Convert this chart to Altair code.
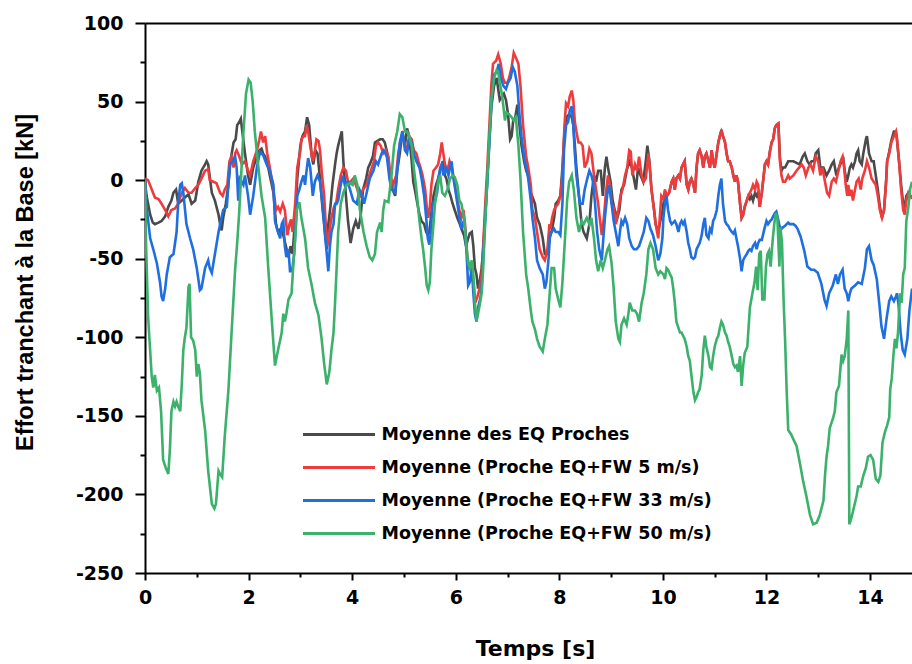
import altair as alt
import pandas as pd

SERIES = [
    "Moyenne des EQ Proches",
    "Moyenne (Proche EQ+FW 5 m/s)",
    "Moyenne (Proche EQ+FW 33 m/s)",
    "Moyenne (Proche EQ+FW 50 m/s)",
]
COLORS = ["#4a4a4a", "#ef3b3b", "#1f6fe0", "#3bb16c"]

X_MAJOR = [0, 2, 4, 6, 8, 10, 12, 14]
X_MINOR = [1, 3, 5, 7, 9, 11, 13]
Y_MAJOR = [-250, -200, -150, -100, -50, 0, 50, 100]
Y_MINOR = [-225, -175, -125, -75, -25, 25, 75]

# (time [s], base shear [kN])
GRAY = [
    (0, -1), (0.03, -10), (0.10, -22), (0.15, -27), (0.19, -28), (0.26, -27), (0.32, -26), (0.39, -23),
    (0.45, -17), (0.51, -13), (0.55, -8), (0.60, -6), (0.64, -15), (0.71, -13), (0.77, -11), (0.84, -9),
    (0.90, -15), (0.97, -13), (1.03, -1), (1.09, 6), (1.16, 10), (1.19, 12), (1.22, 10), (1.29, -8),
    (1.35, -13), (1.42, -22), (1.45, -28), (1.48, -32), (1.51, -24), (1.56, -15), (1.61, -3), (1.65, 12),
    (1.71, 24), (1.75, 26), (1.78, 35), (1.82, 37), (1.85, 39), (1.89, 28), (1.93, 17), (1.96, 10),
    (1.99, 3), (2.03, -3), (2.09, 8), (2.16, 15), (2.21, 19), (2.25, 20), (2.28, 17), (2.32, 15), (2.38, 8),
    (2.41, 3), (2.48, -8), (2.53, -28), (2.57, -33), (2.62, -31), (2.67, -35), (2.72, -42), (2.77, -49),
    (2.81, -42), (2.85, -47), (2.90, -24), (2.94, 1), (3.00, 22), (3.04, 28), (3.09, 31), (3.13, 40),
    (3.17, 35), (3.22, 15), (3.25, 10), (3.29, 19), (3.33, 17), (3.38, 1), (3.43, -19), (3.47, -31),
    (3.51, -44), (3.54, -28), (3.58, -17), (3.62, -3), (3.67, 10), (3.70, 17), (3.73, 22), (3.76, 26),
    (3.80, 31), (3.83, 12), (3.88, -10), (3.92, -26), (3.97, -40), (4.02, -31), (4.07, -26), (4.12, -31),
    (4.16, -24), (4.21, -6), (4.27, 1), (4.31, 8), (4.34, 10), (4.40, 15), (4.44, 24), (4.49, 25),
    (4.54, 26), (4.59, 26), (4.63, 24), (4.68, 17), (4.73, 1), (4.78, -6), (4.83, -10), (4.87, 6),
    (4.92, 17), (4.97, 31), (5.02, 22), (5.06, 33), (5.10, 28), (5.15, 12), (5.18, -1), (5.21, -6),
    (5.26, -15), (5.30, -22), (5.34, -26), (5.39, -28), (5.43, -33), (5.46, -35), (5.49, -33), (5.52, -24),
    (5.57, -10), (5.62, -3), (5.66, 1), (5.71, 8), (5.75, 12), (5.79, 3), (5.82, 1), (5.86, -6),
    (5.90, -10), (5.94, -15), (5.98, -19), (6.03, -24), (6.08, -28), (6.11, -31), (6.16, -35), (6.20, -42),
    (6.24, -37), (6.27, -34), (6.31, -33), (6.34, -42), (6.37, -56), (6.40, -60), (6.43, -69), (6.47, -63),
    (6.50, -56), (6.53, -44), (6.57, -22), (6.61, 1), (6.65, 26), (6.69, 47), (6.74, 60), (6.79, 65),
    (6.82, 58), (6.85, 51), (6.89, 53), (6.93, 55), (6.97, 51), (7.01, 42), (7.05, 26), (7.08, 28),
    (7.11, 38), (7.15, 40), (7.19, 48), (7.23, 35), (7.27, 22), (7.32, 12), (7.36, 6), (7.40, 3),
    (7.45, -8), (7.53, -15), (7.57, -24), (7.62, -28), (7.68, -37), (7.72, -47), (7.77, -47), (7.81, -37),
    (7.85, -33), (7.90, -24), (7.93, -15), (7.98, -13), (8.02, -10), (8.06, 8), (8.10, 31), (8.14, 40),
    (8.19, 42), (8.24, 40), (8.27, 35), (8.30, 22), (8.33, 8), (8.38, -10), (8.43, -28), (8.47, -33),
    (8.53, -37), (8.58, -28), (8.62, -10), (8.67, 3), (8.71, -1), (8.75, 6), (8.80, 6), (8.84, -10),
    (8.88, 8), (8.91, 15), (8.94, 8), (8.99, -1), (9.03, -13), (9.07, -19), (9.12, -24), (9.16, -19),
    (9.20, -6), (9.25, -3), (9.30, 6), (9.35, 12), (9.40, 8), (9.44, 1), (9.48, -6), (9.52, 8),
    (9.57, 3), (9.62, -1), (9.67, 12), (9.70, 22), (9.74, 12), (9.78, -6), (9.83, -19), (9.86, -28),
    (9.91, -33), (9.95, -26), (9.99, -20), (10.04, -8), (10.08, -10), (10.12, -8), (10.17, -1), (10.20, 1),
    (10.23, -6), (10.26, 1), (10.30, 3), (10.33, 1), (10.36, 8), (10.39, 10), (10.42, 12), (10.46, -3),
    (10.49, -6), (10.52, -1), (10.55, 1), (10.59, -3), (10.62, -8), (10.65, 8), (10.68, 17), (10.71, 19),
    (10.75, 15), (10.78, 8), (10.81, 15), (10.84, 17), (10.88, 12), (10.91, 8), (10.94, 19), (10.97, 12),
    (11.00, 8), (11.04, 17), (11.07, 24), (11.10, 28), (11.13, 32), (11.16, 28), (11.20, 24), (11.23, 17),
    (11.26, 12), (11.29, 12), (11.33, 8), (11.36, 3), (11.39, -1), (11.42, 3), (11.45, -1), (11.49, -15),
    (11.52, -24), (11.55, -22), (11.58, -17), (11.62, -13), (11.65, -10), (11.68, -12), (11.71, -10), (11.74, -13),
    (11.78, -8), (11.81, -10), (11.84, -8), (11.87, -17), (11.91, -8), (11.94, 1), (11.97, 10), (12.00, 12),
    (12.03, 10), (12.07, 19), (12.10, 24), (12.13, 26), (12.16, 33), (12.19, 35), (12.23, 36), (12.26, 14),
    (12.29, 6), (12.32, 8), (12.36, 8), (12.39, 10), (12.42, 12), (12.45, 12), (12.52, 12), (12.58, 11),
    (12.64, 10), (12.70, 15), (12.74, 17), (12.79, 12), (12.83, 10), (12.87, 12), (12.92, 12), (12.95, 17),
    (13.00, 19), (13.04, 8), (13.10, 8), (13.16, 3), (13.21, 6), (13.26, 10), (13.30, 12), (13.35, 3),
    (13.40, 8), (13.45, 12), (13.48, 15), (13.51, 6), (13.55, -1), (13.58, 3), (13.61, 8), (13.64, 10),
    (13.67, 8), (13.71, 12), (13.74, 17), (13.77, 19), (13.80, 12), (13.84, 10), (13.87, 17), (13.92, 26),
    (13.94, 28), (13.98, 17), (14.03, 12), (14.07, 12), (14.11, 3), (14.15, -6), (14.19, -17), (14.23, -24),
    (14.27, -19), (14.31, -1), (14.33, 12), (14.37, 18), (14.41, 25), (14.46, 31), (14.50, 31), (14.52, 26),
    (14.56, 12), (14.60, -3), (14.64, -15), (14.67, -17), (14.70, -10), (14.74, -8), (14.78, -10), (14.81, -11),
]

RED = [
    (0, 1), (0.06, 0), (0.13, -6), (0.19, -11), (0.26, -12), (0.32, -15), (0.39, -19), (0.45, -23),
    (0.51, -19), (0.58, -18), (0.64, -15), (0.71, -8), (0.77, -5), (0.84, -8), (0.90, -8), (0.97, -5),
    (1.03, -3), (1.09, 1), (1.16, 6), (1.22, 7), (1.25, 0), (1.32, -1), (1.38, -2), (1.45, -8),
    (1.50, -10), (1.54, -6), (1.59, -3), (1.63, 12), (1.67, 15), (1.71, 8), (1.74, 17), (1.77, 19),
    (1.82, 15), (1.87, 10), (1.93, 12), (1.99, 6), (2.03, 3), (2.09, 12), (2.16, 19), (2.21, 26),
    (2.24, 31), (2.28, 24), (2.32, 28), (2.36, 17), (2.41, 8), (2.48, -6), (2.53, -19), (2.57, -17),
    (2.61, -20), (2.66, -15), (2.70, -19), (2.75, -35), (2.79, -28), (2.82, -25), (2.85, -33), (2.90, -15),
    (2.94, 8), (3.00, 19), (3.02, 26), (3.06, 28), (3.09, 28), (3.12, 35), (3.15, 31), (3.19, 22),
    (3.24, 12), (3.28, 19), (3.31, 26), (3.35, 25), (3.38, 19), (3.41, 6), (3.46, -10), (3.49, -28),
    (3.52, -42), (3.56, -33), (3.60, -24), (3.65, -17), (3.69, -15), (3.73, -6), (3.78, 3), (3.83, 8),
    (3.88, 6), (3.92, -1), (3.97, -1), (4.02, 1), (4.07, -3), (4.12, -8), (4.16, -10), (4.21, -6),
    (4.28, -3), (4.33, 3), (4.38, 8), (4.42, 12), (4.46, 22), (4.50, 24), (4.55, 22), (4.60, 17),
    (4.65, 19), (4.70, 15), (4.74, 3), (4.79, -3), (4.85, 3), (4.89, 17), (4.94, 26), (4.97, 29),
    (5.02, 22), (5.06, 19), (5.10, 28), (5.15, 26), (5.19, 19), (5.24, 17), (5.28, 12), (5.32, 8),
    (5.36, 3), (5.41, -6), (5.44, -17), (5.47, -24), (5.50, -17), (5.53, -3), (5.57, 6), (5.62, 8),
    (5.66, 10), (5.70, 17), (5.73, 24), (5.76, 17), (5.80, 8), (5.84, 6), (5.88, 12), (5.92, 8),
    (5.97, -1), (6.02, -10), (6.07, -19), (6.11, -24), (6.15, -19), (6.18, -28), (6.22, -47), (6.26, -56),
    (6.30, -56), (6.34, -65), (6.38, -78), (6.42, -74), (6.46, -69), (6.50, -60), (6.53, -42), (6.57, -15),
    (6.61, 8), (6.65, 35), (6.69, 62), (6.72, 74), (6.78, 76), (6.82, 80), (6.87, 74), (6.91, 65),
    (6.95, 62), (7.00, 62), (7.03, 65), (7.08, 72), (7.12, 81), (7.16, 78), (7.21, 74), (7.25, 60),
    (7.30, 35), (7.36, 15), (7.40, 8), (7.45, -3), (7.48, -19), (7.53, -24), (7.57, -33), (7.62, -44),
    (7.68, -49), (7.72, -51), (7.77, -44), (7.81, -28), (7.83, -31), (7.86, -24), (7.90, -19), (7.93, -17),
    (7.98, -15), (8.02, -10), (8.06, 3), (8.10, 35), (8.13, 49), (8.17, 47), (8.20, 53), (8.24, 57),
    (8.27, 51), (8.30, 37), (8.33, 31), (8.37, 24), (8.41, 24), (8.45, 22), (8.49, 8), (8.54, 12),
    (8.58, 20), (8.62, 17), (8.67, 3), (8.71, -6), (8.75, -15), (8.78, -24), (8.82, -35), (8.86, -24),
    (8.90, -8), (8.94, 3), (8.98, -3), (9.01, -15), (9.05, -17), (9.09, -28), (9.14, -19), (9.18, -10),
    (9.22, -6), (9.27, 3), (9.31, 8), (9.35, 19), (9.38, 18), (9.41, 3), (9.46, 10), (9.50, 6),
    (9.54, 15), (9.59, 3), (9.63, -1), (9.67, 1), (9.72, 17), (9.75, 6), (9.78, -6), (9.83, -19),
    (9.86, -28), (9.91, -37), (9.94, -24), (9.97, -10), (10.01, -12), (10.04, -6), (10.08, -10), (10.12, -8),
    (10.17, -1), (10.20, 1), (10.23, -6), (10.26, 1), (10.30, 3), (10.33, 1), (10.36, 8), (10.39, 10),
    (10.42, 12), (10.46, -3), (10.49, -6), (10.52, -1), (10.55, 1), (10.59, -3), (10.62, -8), (10.65, 8),
    (10.68, 17), (10.71, 19), (10.75, 15), (10.78, 8), (10.81, 15), (10.84, 17), (10.88, 12), (10.91, 8),
    (10.94, 19), (10.97, 12), (11.00, 8), (11.04, 17), (11.07, 24), (11.10, 28), (11.13, 31), (11.16, 28),
    (11.20, 24), (11.23, 17), (11.26, 12), (11.29, 12), (11.33, 8), (11.36, 3), (11.39, -1), (11.42, 3),
    (11.45, -1), (11.49, -15), (11.52, -24), (11.55, -22), (11.58, -17), (11.62, -13), (11.65, -10), (11.68, -8),
    (11.71, -6), (11.74, -3), (11.78, -6), (11.81, -1), (11.84, -3), (11.87, -17), (11.91, -8), (11.94, 1),
    (11.97, 10), (12.00, 12), (12.03, 10), (12.07, 19), (12.10, 24), (12.13, 26), (12.16, 33), (12.19, 35),
    (12.23, 36), (12.26, 12), (12.29, 3), (12.32, -1), (12.36, -1), (12.39, 1), (12.42, 3), (12.45, 1),
    (12.52, 3), (12.58, 6), (12.63, 8), (12.68, 10), (12.72, 8), (12.76, 3), (12.81, 8), (12.85, 10),
    (12.90, 6), (12.95, 15), (13.00, 12), (13.04, 3), (13.08, 8), (13.13, -1), (13.17, -8), (13.21, -10),
    (13.26, -1), (13.30, 1), (13.34, -1), (13.39, 6), (13.43, 12), (13.47, 15), (13.50, 8), (13.53, -3),
    (13.56, -10), (13.58, -3), (13.61, -10), (13.64, -6), (13.67, -13), (13.71, -6), (13.74, -1), (13.78, 1),
    (13.82, -6), (13.85, 1), (13.90, 6), (13.94, 12), (13.98, 8), (14.03, 1), (14.07, -1), (14.11, -3),
    (14.15, -10), (14.19, -19), (14.23, -24), (14.27, -19), (14.31, -1), (14.33, 12), (14.37, 17), (14.41, 24),
    (14.46, 28), (14.50, 31), (14.52, 26), (14.56, 12), (14.60, -6), (14.64, -19), (14.67, -22), (14.70, -13),
    (14.74, -8), (14.78, -10), (14.81, -12),
]

BLUE = [
    (0, 0), (0.03, -17), (0.10, -37), (0.16, -44), (0.23, -53), (0.29, -65), (0.32, -74), (0.35, -77),
    (0.39, -69), (0.42, -60), (0.48, -49), (0.55, -47), (0.61, -33), (0.64, -15), (0.68, -3), (0.71, -2),
    (0.74, -8), (0.80, -28), (0.87, -37), (0.93, -44), (1.00, -56), (1.06, -70), (1.09, -69), (1.16, -56),
    (1.22, -51), (1.25, -56), (1.29, -59), (1.35, -47), (1.42, -33), (1.45, -28), (1.51, -19), (1.58, -17),
    (1.61, -3), (1.64, 10), (1.69, 12), (1.74, 15), (1.77, 8), (1.80, -13), (1.83, 1), (1.90, -3),
    (1.93, 3), (1.99, -10), (2.03, -22), (2.09, -10), (2.16, 8), (2.22, 18), (2.28, 16), (2.35, 10),
    (2.41, 6), (2.48, -3), (2.51, -26), (2.55, -31), (2.61, -37), (2.64, -28), (2.67, -26), (2.70, -42),
    (2.73, -49), (2.77, -44), (2.80, -58), (2.84, -58), (2.88, -47), (2.92, -24), (2.94, -10), (2.98, -6),
    (3.02, -1), (3.06, 3), (3.09, -3), (3.12, 6), (3.15, 14), (3.19, 8), (3.24, -10), (3.28, -1),
    (3.33, 3), (3.38, -1), (3.44, -19), (3.47, -33), (3.51, -47), (3.54, -58), (3.57, -42), (3.60, -33),
    (3.64, -28), (3.67, -15), (3.70, -15), (3.73, -13), (3.78, -3), (3.82, 3), (3.86, -3), (3.91, -1),
    (3.96, -6), (4.02, -13), (4.09, -15), (4.14, -6), (4.18, -9), (4.23, -15), (4.28, -8), (4.34, 1),
    (4.41, 6), (4.46, 12), (4.50, 10), (4.57, 17), (4.61, 19), (4.67, 15), (4.72, 1), (4.76, -6),
    (4.83, -8), (4.87, 6), (4.92, 24), (4.97, 31), (5.02, 19), (5.06, 17), (5.10, 26), (5.15, 24),
    (5.19, 17), (5.24, 12), (5.30, 8), (5.34, 1), (5.39, -10), (5.43, -24), (5.46, -37), (5.49, -41),
    (5.52, -33), (5.55, -15), (5.60, -13), (5.64, -8), (5.70, 8), (5.73, 10), (5.76, 3), (5.81, 8),
    (5.86, 3), (5.89, 8), (5.92, 12), (5.95, 3), (6.00, -8), (6.05, -19), (6.08, -26), (6.11, -31),
    (6.15, -26), (6.18, -31), (6.21, -47), (6.24, -67), (6.27, -65), (6.31, -56), (6.34, -72), (6.37, -85),
    (6.40, -90), (6.43, -81), (6.47, -76), (6.50, -69), (6.53, -49), (6.57, -24), (6.61, -1), (6.65, 24),
    (6.69, 51), (6.74, 67), (6.79, 69), (6.83, 74), (6.87, 65), (6.92, 60), (6.97, 58), (7.01, 62),
    (7.06, 65), (7.10, 72), (7.14, 69), (7.19, 60), (7.23, 42), (7.27, 28), (7.32, 15), (7.36, 8),
    (7.40, 1), (7.45, -13), (7.48, -24), (7.53, -37), (7.57, -51), (7.62, -56), (7.68, -60), (7.72, -69),
    (7.75, -65), (7.79, -51), (7.82, -35), (7.85, -33), (7.90, -31), (7.93, -33), (7.98, -33), (8.02, -35),
    (8.06, -15), (8.09, 19), (8.13, 35), (8.17, 37), (8.20, 44), (8.24, 47), (8.27, 35), (8.30, 17),
    (8.33, 3), (8.37, -8), (8.40, -15), (8.45, -15), (8.49, -6), (8.54, 1), (8.58, 6), (8.62, 3),
    (8.65, -1), (8.69, -15), (8.73, -33), (8.77, -44), (8.82, -51), (8.85, -37), (8.88, -24), (8.93, -8),
    (8.96, -3), (9.01, -15), (9.05, -26), (9.09, -33), (9.14, -42), (9.17, -33), (9.20, -26), (9.23, -28),
    (9.27, -24), (9.31, -28), (9.35, -37), (9.40, -42), (9.44, -44), (9.49, -44), (9.54, -42), (9.59, -37),
    (9.63, -33), (9.68, -24), (9.72, -26), (9.76, -31), (9.81, -35), (9.86, -42), (9.91, -51), (9.95, -47),
    (9.99, -37), (10.01, -24), (10.04, -15), (10.07, -10), (10.10, -19), (10.14, -26), (10.17, -28), (10.20, -27),
    (10.23, -26), (10.26, -28), (10.30, -33), (10.33, -28), (10.36, -26), (10.39, -28), (10.42, -26), (10.46, -33),
    (10.49, -40), (10.52, -44), (10.55, -49), (10.59, -50), (10.62, -49), (10.65, -44), (10.68, -42), (10.71, -40),
    (10.75, -35), (10.78, -28), (10.81, -24), (10.84, -35), (10.88, -37), (10.91, -31), (10.94, -33), (10.97, -26),
    (11.00, -24), (11.04, -19), (11.07, -10), (11.10, -3), (11.13, 1), (11.16, -15), (11.20, -26), (11.23, -28),
    (11.26, -29), (11.29, -31), (11.33, -33), (11.36, -34), (11.39, -32), (11.45, -42), (11.49, -50),
    (11.52, -58), (11.55, -51), (11.58, -49), (11.62, -47), (11.65, -45), (11.68, -44), (11.71, -45), (11.74, -42),
    (11.78, -40), (11.81, -44), (11.84, -40), (11.87, -38), (11.91, -38), (11.96, -31), (12.00, -26),
    (12.03, -28), (12.07, -26), (12.10, -25), (12.13, -23), (12.16, -21), (12.19, -20), (12.22, -24), (12.25, -29),
    (12.29, -31), (12.32, -30), (12.36, -29), (12.39, -28), (12.42, -27), (12.45, -28), (12.52, -28), (12.56, -29),
    (12.60, -31), (12.66, -36), (12.73, -45), (12.79, -55), (12.86, -57), (12.92, -57), (12.99, -59),
    (13.06, -66), (13.12, -76), (13.16, -80), (13.21, -72), (13.28, -67), (13.34, -60), (13.38, -66),
    (13.42, -60), (13.47, -57), (13.51, -69), (13.55, -72), (13.58, -77), (13.61, -72), (13.64, -69), (13.71, -67),
    (13.77, -65), (13.84, -66), (13.90, -56), (13.94, -44), (13.98, -42), (14.03, -51), (14.07, -54), (14.13, -63),
    (14.18, -79), (14.22, -93), (14.27, -101), (14.32, -88), (14.37, -77), (14.41, -74), (14.46, -77), (14.50, -74),
    (14.52, -72), (14.55, -79), (14.59, -97), (14.63, -108), (14.67, -111), (14.72, -101), (14.76, -83), (14.81, -69),
]

GREEN = [
    (0, 0), (0.02, -40), (0.06, -87), (0.13, -125), (0.16, -132), (0.19, -124), (0.23, -134), (0.27, -132),
    (0.31, -147), (0.35, -178), (0.40, -183), (0.45, -187), (0.48, -172), (0.51, -147), (0.55, -141), (0.58, -144),
    (0.61, -141), (0.64, -144), (0.68, -147), (0.71, -130), (0.74, -108), (0.77, -100), (0.80, -94), (0.84, -68),
    (0.86, -66), (0.89, -100), (0.93, -102), (0.97, -108), (1.00, -125), (1.03, -117), (1.06, -123), (1.09, -140),
    (1.16, -159), (1.22, -185), (1.29, -206), (1.34, -209), (1.37, -206), (1.42, -185), (1.45, -187), (1.49, -189),
    (1.54, -163), (1.61, -134), (1.67, -98), (1.74, -57), (1.78, -40), (1.82, -20), (1.86, 5), (1.90, 30),
    (1.95, 55), (2.00, 64), (2.04, 62), (2.08, 50), (2.12, 31), (2.19, 8), (2.25, -10), (2.32, -24), (2.38, -56),
    (2.45, -90), (2.51, -118), (2.57, -108), (2.64, -97), (2.67, -85), (2.70, -90), (2.73, -85), (2.77, -76),
    (2.83, -72), (2.86, -56), (2.90, -37), (2.93, -19), (2.98, -14), (3.02, -24), (3.09, -37), (3.15, -56),
    (3.22, -67), (3.28, -78), (3.35, -86), (3.41, -101), (3.46, -117), (3.51, -130), (3.56, -122), (3.60, -108),
    (3.64, -97), (3.67, -78), (3.70, -56), (3.73, -33), (3.78, -15), (3.83, -8), (3.89, -3), (3.96, -2),
    (4.01, -3), (4.05, 3), (4.10, -3), (4.15, -19), (4.22, -33), (4.28, -42), (4.34, -49), (4.39, -51),
    (4.44, -47), (4.48, -33), (4.54, -27), (4.57, -33), (4.60, -19), (4.63, -13), (4.70, -14), (4.76, 3),
    (4.81, 22), (4.87, 31), (4.92, 42), (4.97, 40), (5.02, 31), (5.06, 31), (5.10, 28), (5.15, 22),
    (5.19, 8), (5.24, -6), (5.30, -26), (5.34, -37), (5.37, -44), (5.41, -56), (5.44, -67), (5.47, -70),
    (5.50, -65), (5.53, -44), (5.57, -28), (5.60, -15), (5.63, -8), (5.66, -1), (5.70, 3), (5.74, -8),
    (5.79, -10), (5.84, -6), (5.89, 1), (5.94, 3), (5.98, 2), (6.03, -3), (6.07, -13), (6.11, -15),
    (6.16, -24), (6.20, -40), (6.24, -53), (6.27, -56), (6.31, -51), (6.34, -60), (6.37, -78), (6.40, -90),
    (6.43, -85), (6.47, -78), (6.50, -72), (6.53, -56), (6.56, -33), (6.61, 1), (6.65, 28), (6.69, 51),
    (6.74, 65), (6.79, 70), (6.82, 69), (6.85, 62), (6.89, 55), (6.92, 47), (6.95, 38), (6.98, 43),
    (7.03, 42), (7.08, 40), (7.12, 38), (7.16, 40), (7.21, 22), (7.25, 1), (7.30, -33), (7.36, -60),
    (7.40, -69), (7.45, -83), (7.48, -90), (7.53, -95), (7.57, -101), (7.62, -106), (7.68, -109), (7.72, -101),
    (7.77, -92), (7.81, -74), (7.85, -56), (7.90, -56), (7.93, -69), (7.98, -76), (8.02, -81), (8.06, -65),
    (8.11, -37), (8.15, -13), (8.19, -1), (8.24, 3), (8.28, -6), (8.33, -24), (8.38, -33), (8.43, -26),
    (8.47, -28), (8.53, -24), (8.58, -28), (8.62, -24), (8.67, -37), (8.71, -51), (8.75, -58), (8.80, -51),
    (8.84, -56), (8.88, -51), (8.93, -44), (8.96, -42), (9.01, -53), (9.05, -69), (9.09, -90), (9.14, -101),
    (9.17, -103), (9.20, -92), (9.25, -88), (9.30, -92), (9.33, -86), (9.36, -78), (9.41, -83), (9.46, -83),
    (9.50, -85), (9.54, -90), (9.59, -78), (9.63, -72), (9.68, -60), (9.72, -44), (9.76, -40), (9.81, -44),
    (9.86, -56), (9.91, -60), (9.95, -58), (10.01, -60), (10.04, -63), (10.07, -56), (10.10, -57), (10.14, -60),
    (10.17, -62), (10.20, -69), (10.23, -78), (10.26, -90), (10.30, -94), (10.33, -97), (10.36, -97), (10.39, -99),
    (10.42, -101), (10.46, -106), (10.49, -112), (10.52, -115), (10.55, -124), (10.59, -135), (10.62, -140), (10.65, -138),
    (10.68, -135), (10.71, -133), (10.75, -124), (10.78, -108), (10.81, -99), (10.84, -106), (10.88, -112), (10.91, -119),
    (10.94, -120), (10.97, -112), (11.00, -106), (11.04, -101), (11.07, -99), (11.10, -94), (11.13, -90), (11.16, -92),
    (11.20, -97), (11.23, -99), (11.26, -103), (11.29, -106), (11.33, -112), (11.36, -117), (11.39, -119), (11.42, -118),
    (11.45, -122), (11.49, -112), (11.52, -131), (11.55, -118), (11.58, -110), (11.63, -106), (11.68, -81), (11.74, -70),
    (11.77, -65), (11.80, -55), (11.83, -70), (11.86, -47), (11.89, -45), (11.92, -76), (11.96, -76), (11.99, -55),
    (12.02, -47), (12.05, -45), (12.08, -55), (12.12, -38), (12.15, -28), (12.18, -21), (12.21, -24), (12.25, -55),
    (12.27, -30), (12.30, -40), (12.33, -76), (12.36, -102), (12.39, -134), (12.42, -159), (12.48, -162),
    (12.52, -165), (12.58, -169), (12.65, -181), (12.71, -192), (12.77, -201), (12.84, -213), (12.90, -219), (12.97, -218),
    (13.03, -213), (13.10, -204), (13.13, -188), (13.16, -176), (13.19, -169), (13.22, -158), (13.29, -151), (13.32, -147),
    (13.35, -135), (13.40, -131), (13.45, -111), (13.48, -115), (13.51, -112), (13.55, -101), (13.58, -83), (13.60, -219),
    (13.64, -215), (13.69, -208), (13.74, -201), (13.77, -195), (13.82, -195), (13.87, -188), (13.92, -183), (13.96, -176),
    (14.01, -175), (14.06, -178), (14.11, -190), (14.16, -192), (14.20, -188), (14.24, -167), (14.29, -160), (14.33, -156),
    (14.37, -151), (14.39, -133), (14.42, -126), (14.45, -112), (14.48, -101), (14.51, -107), (14.54, -97), (14.58, -72),
    (14.61, -78), (14.64, -60), (14.67, -56), (14.70, -26), (14.74, -17), (14.77, -6), (14.81, -1),
]

rows = []
for name, pts in zip(SERIES, [GRAY, RED, BLUE, GREEN]):
    for t, v in pts:
        rows.append({"t": t, "v": v, "s": name})
df = pd.DataFrame(rows)

XS = alt.Scale(domain=[0, 14.81], nice=False, zero=False)
YS = alt.Scale(domain=[-250, 100], nice=False, zero=False)
CS = alt.Scale(domain=SERIES, range=COLORS)

LAB = dict(labelFont="DejaVu Sans", labelFontSize=19, labelFontWeight="bold", labelColor="black")

x_major = alt.Axis(
    orient="bottom", values=X_MAJOR, labelExpr="'' + datum.value", labelFlush=False,
    tickSize=7, tickWidth=2, tickColor="black", domainColor="black", domainWidth=2,
    labelPadding=8, grid=False,
    title="Temps [s]", titleFont="DejaVu Sans", titleFontSize=22, titleFontWeight="bold",
    titleColor="black", titleX=390, titleY=75, titleAlign="center", titleBaseline="middle", **LAB,
)
y_major = alt.Axis(
    orient="left", values=Y_MAJOR, labelExpr="'' + datum.value", labelFlush=False,
    tickSize=10, tickWidth=2, tickColor="black", domainColor="black", domainWidth=2,
    labelPadding=12, grid=False,
    title="Effort tranchant à la Base  [kN]", titleFont="Liberation Sans", titleFontSize=23.5,
    titleFontWeight="bold", titleColor="black", titleX=-120, titleY=259, titleAngle=270,
    titleAlign="center", titleBaseline="middle", **LAB,
)
x_minor = alt.Axis(orient="bottom", values=X_MINOR, labels=False, domain=False, tickSize=4,
                   tickWidth=2, tickColor="black", grid=False)
y_minor = alt.Axis(orient="left", values=Y_MINOR, labels=False, domain=False, tickSize=5,
                   tickWidth=2, tickColor="black", grid=False)
x_top = alt.Axis(orient="top", labels=False, ticks=False, domainColor="black", domainWidth=2, grid=False)

legend = alt.Legend(
    title=None, orient="none", legendX=158, legendY=401,
    symbolType="M-4,0H4", symbolSize=324, symbolStrokeWidth=3, symbolOffset=25.5,
    labelOffset=32, labelFont="DejaVu Sans", labelFontSize=17.5, labelFontWeight="bold",
    labelColor="black", rowPadding=14, labelLimit=600,
)


def series_layer(i, xaxis, yaxis):
    x_enc = alt.X("t:Q", scale=XS, title=None, axis=xaxis) if xaxis is not None else alt.X("t:Q", scale=XS, axis=None)
    y_enc = alt.Y("v:Q", scale=YS, title=None, axis=yaxis) if yaxis is not None else alt.Y("v:Q", scale=YS, axis=None)
    return (
        alt.Chart(df)
        .transform_filter(alt.datum.s == SERIES[i])
        .mark_line(strokeWidth=2.6, clip=True)
        .encode(x=x_enc, y=y_enc, color=alt.Color("s:N", scale=CS, legend=None))
    )


gray_layer = alt.Chart(df).transform_filter(alt.datum.s == SERIES[0]).mark_line(strokeWidth=2.6, clip=True).encode(
    x=alt.X("t:Q", scale=XS, axis=x_major),
    y=alt.Y("v:Q", scale=YS, axis=y_major),
    color=alt.Color("s:N", scale=CS, legend=legend),
)
red_layer = series_layer(1, x_minor, y_minor)
blue_layer = series_layer(2, x_top, None)
green_layer = series_layer(3, None, None)

chart = (
    alt.layer(gray_layer, red_layer, blue_layer, green_layer)
    .resolve_axis(x="independent", y="independent")
    .properties(
        width=767, height=550,
        padding={"left": 145, "top": 23, "right": 0, "bottom": 91},
        autosize=alt.AutoSizeParams(type="none"),
        background="white",
    )
    .configure_view(stroke=None)
)

chart.save("out.html", embed_options={"renderer": "svg", "actions": False})
